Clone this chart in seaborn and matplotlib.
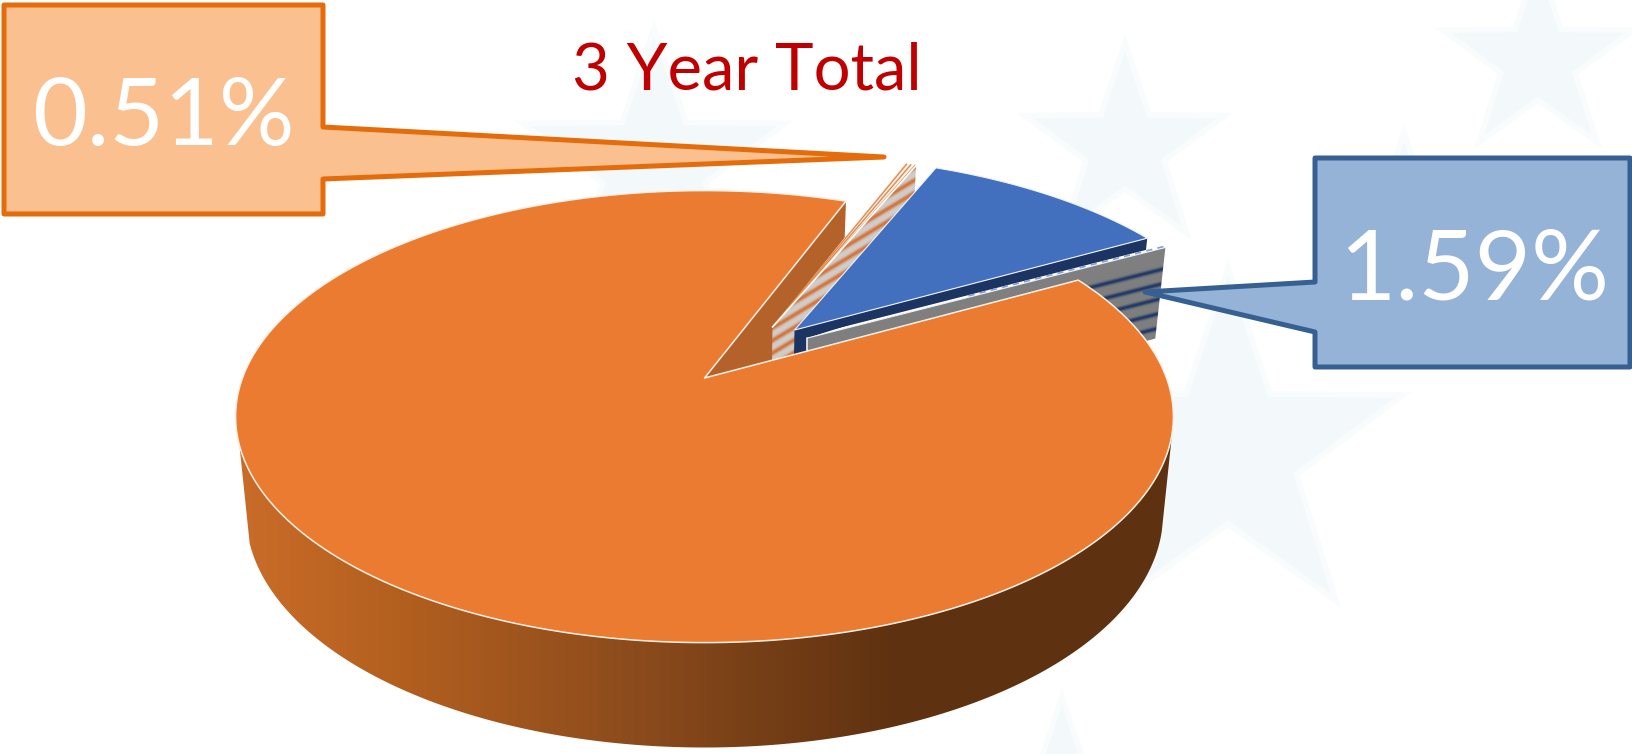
import numpy as np
import matplotlib
matplotlib.use("Agg")
import matplotlib.pyplot as plt
from matplotlib.patches import Polygon
import seaborn as sns

# Shares of the 3 year total, in percent
slice_names = ["Main", "Minor A", "Secondary", "Minor B"]
slice_shares = [88.80, 0.51, 10.40, 1.59]
chart_title = "3 Year Total"

sns.set_theme(style="white")
plt.rcParams["font.family"] = ["Lato", "DejaVu Sans"]

W, H = 1633, 754
fig = plt.figure(figsize=(W / 100, H / 100), dpi=100, facecolor="white")
ax = fig.add_axes([0, 0, 1, 1])
ax.set_xlim(0, W)
ax.set_ylim(H, 0)
ax.axis("off")

# Perspective of the pie's top face: plane coordinates to canvas pixels
CX, A, B0, B1, C = 704.5, 462.0, 378.0, -154.85, 0.1708
WALL_SCALE, WALL_Y_SCALE, WALL_Y_OFFSET = 0.978, 1.035, 82.4


def project(u, v):
    u, v = np.asarray(u, float), np.asarray(v, float)
    d = 1 + C * v
    return CX + A * u / d, (B0 + B1 * v) / d


def drop(x, y):
    """Same plane points on the underside of the pie."""
    return CX + (np.asarray(x) - CX) * WALL_SCALE, WALL_Y_SCALE * np.asarray(y) + WALL_Y_OFFSET


def rim(start_deg, end_deg, offset=(0, 0), n=200):
    t = np.radians(np.linspace(start_deg, end_deg, n))
    return project(offset[0] + np.cos(t), offset[1] + np.sin(t))


def polygon(xs, ys, **kw):
    p = Polygon(np.column_stack([xs, ys]), closed=True, **kw)
    ax.add_patch(p)
    return p


def textured(xs, ys, image_fn, z, res=1):
    """Polygon filled with an image computed in canvas pixels."""
    x0, x1 = int(np.min(xs)) - 2, int(np.max(xs)) + 3
    y0, y1 = int(np.min(ys)) - 2, int(np.max(ys)) + 3
    gx, gy = np.meshgrid(np.arange(x0, x1, res) + 0.5, np.arange(y0, y1, res) + 0.5)
    im = ax.imshow(image_fn(gx, gy), extent=(x0, x1, y1, y0), zorder=z, aspect="auto",
                   interpolation="bilinear")
    clip = polygon(xs, ys, facecolor="none", edgecolor="none", zorder=z, transform=ax.transData)
    im.set_clip_path(clip)
    ax.set_xlim(0, W)
    ax.set_ylim(H, 0)


def hex_rgb(c):
    return np.array(matplotlib.colors.to_rgb(c))


def stripes(base, line, slope, period, phase, sharp, first_band_only_after=None):
    """Soft parallel bands of colour `line` on colour `base`."""
    b, l = hex_rgb(base), hex_rgb(line)

    def fn(gx, gy):
        s = (gy - slope * gx - phase) / period
        m = (0.5 + 0.5 * np.cos(2 * np.pi * s)) ** sharp
        if first_band_only_after is not None:
            m = np.where(s < first_band_only_after, 0.0, m)
        return b[None, None, :] * (1 - m[..., None]) + l[None, None, :] * m[..., None]

    return fn


# Pale stars of the page background
star_centres = [(654, 166, 138), (1125, 148, 105), (1538, 61, 100),
                (1228, 452, 184), (1062, 800, 103), (1404, 193, 60)]
for sx, sy, r in star_centres:
    ang = np.radians(90 + 36 * np.arange(10))
    rad = np.where(np.arange(10) % 2 == 0, r, r * 0.39)
    polygon(sx + rad * np.cos(ang), sy - rad * np.sin(ang), facecolor="#f3f9fa",
            edgecolor="#f9fcfc", lw=4, zorder=0)

# Angles of each wedge's clockwise edge and its displacement out of the pie
main_share, minor_a_share, second_share, minor_b_share = slice_shares
main_start = 69.2
minor_a_edge, second_edge, minor_b_edge = 66.7, 29.2, 28.3
minor_a_off, second_off, minor_b_off = (0.1533, 0.242), (0.2024, 0.227), (0.230, 0.188)
deg = 3.6

ORANGE, BLUE, NAVY, SIDE = "#ea7b30", "#4270bf", "#1c3461", "#b5622a"

apex = project(0, 0)
main_end = main_start + main_share * deg

# Curved outer wall of the main slice, shaded from left to right
tx, ty = rim(197, 346)
bx, by = drop(tx, ty)
wall_cmap = sns.blend_palette(["#ca6c29", "#b4601f", "#8a4a1c", "#5e3110", "#5e3110"], n_colors=256, as_cmap=True)


def wall_shade(gx, gy):
    pos = np.interp(gx, [240, 391, 646, 900, 1180], [0, 0.25, 0.5, 0.75, 1.0])
    return wall_cmap(pos)[..., :3]


textured(np.r_[tx, bx[::-1]], np.r_[ty, by[::-1]], wall_shade, 1)

# Cut face of the main slice
ex, ey = project(np.cos(np.radians(main_start)), np.sin(np.radians(main_start)))
polygon([apex[0], ex, *drop(ex, ey)[0:1], drop(*apex)[0]],
        [apex[1], ey, drop(ex, ey)[1], drop(*apex)[1]], facecolor=SIDE, edgecolor="none", zorder=2)


def wedge_points(edge, share, off):
    ax0, ay0 = project(*off)
    rx, ry = rim(edge, edge + share * deg, off, n=60)
    return (ax0, ay0), rx, ry


# Thin wedge A: striped wall and striped top
(a0x, a0y), arx, ary = wedge_points(minor_a_edge, minor_a_share, minor_a_off)
cx0, cy0 = arx[0], ary[0]
dx0, dy0 = drop([a0x, cx0], [a0y, cy0])
textured([a0x, cx0, dx0[1], dx0[0]], [a0y, cy0, dy0[1], dy0[0]],
         stripes("#cfcdca", "#d5743a", -0.6, 12.5, 4, 2), 3)
polygon(np.r_[a0x, arx], np.r_[a0y, ary], facecolor="#f7f1ea", edgecolor="none", zorder=4)
for frac in (0.08, 0.45, 0.8):
    fx, fy = project(minor_a_off[0] + np.cos(np.radians(minor_a_edge + frac * minor_a_share * deg)),
                     minor_a_off[1] + np.sin(np.radians(minor_a_edge + frac * minor_a_share * deg)))
    ax.plot([a0x, fx], [a0y, fy], color="#e08a4d", lw=1.0, zorder=4.1)
ax.plot([a0x, cx0], [a0y, cy0], color="#ffffff", lw=1.2, zorder=4.2)

# Larger wedge: dark wall and solid top
(b0x, b0y), brx, bry = wedge_points(second_edge, second_share, second_off)
bd, bdy = drop([b0x, brx[0]], [b0y, bry[0]])
polygon([b0x, brx[0], bd[1], bd[0]], [b0y, bry[0], bdy[1], bdy[0]], facecolor=NAVY, edgecolor="none", zorder=5)
polygon(np.r_[b0x, brx], np.r_[b0y, bry], facecolor=BLUE, edgecolor="#eef2fa", lw=0.8, zorder=6)

# Thin wedge B: its top shows only as a sliver in front of the larger wedge's wall
(c0x, c0y), crx, cry = wedge_points(minor_b_edge, minor_b_share, minor_b_off)
sliver_clip = polygon([c0x, crx[0], crx[0], c0x], [c0y - 2, cry[0] - 2.5, cry[0] + 1, c0y + 1],
                      facecolor="none", edgecolor="none", zorder=7)
top_b = polygon(np.r_[c0x, crx], np.r_[c0y, cry], facecolor="#ffffff", edgecolor="none", zorder=7)
top_b.set_clip_path(sliver_clip)
ax.plot([c0x + 0.45 * (crx[0] - c0x), crx[0]], [c0y + 0.45 * (cry[0] - c0y) - 1.2, cry[0] - 1.2],
        color="#7f9fd8", lw=1.5, dashes=(3, 2.5), zorder=7.1)
cdx, cdy = drop([c0x, crx[0]], [c0y, cry[0]])
wall_x, wall_y = [c0x, crx[0], cdx[1], cdx[0]], [c0y, cry[0], cdy[1], cdy[0]]
slope_b = (cry[0] - c0y) / (crx[0] - c0x)
textured(wall_x, wall_y, stripes("#7f7f7f", "#1f3864", slope_b, 14.5,
                                 c0y - slope_b * c0x + 21, 4, first_band_only_after=-0.45), 7.5)
ax.plot([c0x, crx[0]], [c0y, cry[0]], color="#f4f4f4", lw=0.8, zorder=7.6)
ax.plot([c0x, c0x], [c0y, cdy[0]], color="#f4f4f4", lw=1.2, zorder=7.6)

# Top face of the main slice
mx, my = rim(main_start, main_end, n=500)
polygon(np.r_[apex[0], mx], np.r_[apex[1], my], facecolor=ORANGE, edgecolor="#fbf0e6", lw=1.1,
        joinstyle="round", zorder=8)


def callout(box, tip, base, face, edge, text, text_xy, size):
    """Rectangle with a wedge pointer leaving from one of its sides."""
    l, t, r, b = box
    side_x, y1, y2 = base
    if side_x == r:
        xs = [l, r, r, tip[0], r, r, l]
        ys = [t, t, y1, tip[1], y2, b, b]
    else:
        xs = [l, r, r, l, l, tip[0], l]
        ys = [t, t, b, b, y2, tip[1], y1]
    polygon(xs, ys, facecolor=face, edgecolor=edge, lw=3.6, joinstyle="round", zorder=9)
    ax.text(text_xy[0], text_xy[1], text, color="white", fontsize=size, ha="center", va="baseline",
            zorder=10)


callout((4, 5, 323, 214), (884, 157), (323, 127, 179), "#fac090", "#e46c0a",
        f"{minor_a_share:.2f}%", (163, 145), 68)
callout((1315, 158, 1630, 367), (1145, 292), (1315, 282, 332), "#95b3d7", "#366092",
        f"{minor_b_share:.2f}%", (1474, 300), 70)

ax.text(747, 90, chart_title, color="#c00000", fontsize=47, ha="center", va="baseline", zorder=10)

fig.savefig("out.png", dpi=100, facecolor="white")
